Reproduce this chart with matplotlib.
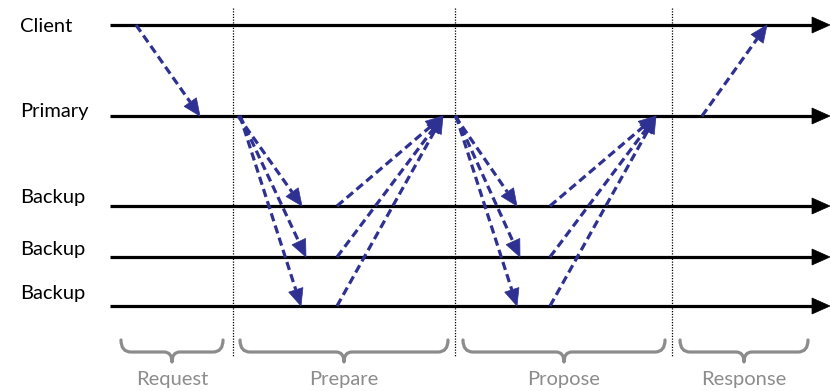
"""
Sequence diagram: Request / Prepare / Propose / Response message flow
between Client, Primary and three Backups.
"""
import matplotlib
matplotlib.use('Agg')
import matplotlib.pyplot as plt
from matplotlib.path import Path
import matplotlib.patches as mpatches
import numpy as np

plt.rcParams['font.family'] = ['Lato', 'DejaVu Sans']

BLUE = '#2E3192'
GRAY = '#8C8C8C'
BLACK = '#000000'

# ── data (pixel-space layout of the diagram) ─────────────────
row_names = ['Client', 'Primary', 'Backup', 'Backup', 'Backup']
row_y = [25, 116, 206, 257, 306]
label_y = [26, 112, 198, 250, 294]

phase_sep_x = [233, 455, 672]

phase_names = ['Request', 'Prepare', 'Propose', 'Response']
phase_start = [121, 240, 463, 680]
phase_end = [223, 448, 665, 808]

# messages: source row / x, destination row / x
msg_src_row = [0, 1, 1, 1, 2, 3, 4, 1, 1, 1, 2, 3, 4, 1]
msg_src_x = [136, 238, 240, 240, 337, 337, 337, 455, 456, 456, 550, 550, 550, 702]
msg_dst_row = [1, 2, 3, 4, 1, 1, 1, 2, 3, 4, 1, 1, 1, 0]
msg_dst_x = [200, 302, 306, 301, 443, 443, 443, 517, 520, 517, 656, 656, 656, 767]

W, H = 830, 391
fig = plt.figure(figsize=(W / 100, H / 100), dpi=100, facecolor='white')
ax = fig.add_axes([0, 0, 1, 1])
ax.set_xlim(0, W)
ax.set_ylim(H, 0)
ax.axis('off')


def head(x0, y0, x1, y1, length, half_w, color):
    d = np.array([x1 - x0, y1 - y0], dtype=float)
    d /= np.hypot(*d)
    n = np.array([-d[1], d[0]])
    tip = np.array([x1, y1], dtype=float)
    base = tip - d * length
    pts = [tip, base + n * half_w, base - n * half_w]
    ax.add_patch(mpatches.Polygon(pts, closed=True, facecolor=color,
                                  edgecolor=color, lw=0.5, zorder=4))
    return base


# ── timelines ────────────────────────────────────────────────
for name, y, ly in zip(row_names, row_y, label_y):
    base = head(110, y, 830, y, 18, 8, BLACK)
    ax.plot([110, base[0]], [y, y], color=BLACK, lw=2.3, zorder=2,
            solid_capstyle='butt')
    ax.text(20, ly, name, ha='left', va='center', fontsize=14.5, color=BLACK)

# ── phase separators ─────────────────────────────────────────
for x in phase_sep_x:
    ax.plot([x, x], [8, 356], color=BLACK, lw=0.9, ls=(0, (1, 1.2)), zorder=1)

# ── messages ─────────────────────────────────────────────────
for sr, sx, dr, dx in zip(msg_src_row, msg_src_x, msg_dst_row, msg_dst_x):
    y0, y1 = row_y[sr], row_y[dr]
    base = head(sx, y0, dx, y1, 17, 7.5, BLUE)
    ax.plot([sx, base[0]], [y0, base[1]], color=BLUE, lw=2.3,
            ls=(0, (2.6, 1.4)), zorder=3, solid_capstyle='butt')

# ── phase braces ─────────────────────────────────────────────
top, mid, tipy = 340, 352, 362
for name, x0, x1 in zip(phase_names, phase_start, phase_end):
    xm = (x0 + x1) / 2
    verts = [(x0, top), (x0, mid), (x0 + 10, mid),
             (xm - 8, mid), (xm, mid), (xm, tipy),
             (xm, mid), (xm + 8, mid),
             (x1 - 10, mid), (x1, mid), (x1, top)]
    codes = [Path.MOVETO, Path.CURVE3, Path.CURVE3,
             Path.LINETO, Path.CURVE3, Path.CURVE3,
             Path.CURVE3, Path.CURVE3,
             Path.LINETO, Path.CURVE3, Path.CURVE3]
    ax.add_patch(mpatches.PathPatch(Path(verts, codes), facecolor='none',
                                    edgecolor=GRAY, lw=2.3, capstyle='round',
                                    joinstyle='round'))
    ax.text(xm, 380, name, ha='center', va='center', fontsize=14.5, color=GRAY)

fig.savefig('out.png', dpi=100, facecolor='white')
plt.close(fig)
